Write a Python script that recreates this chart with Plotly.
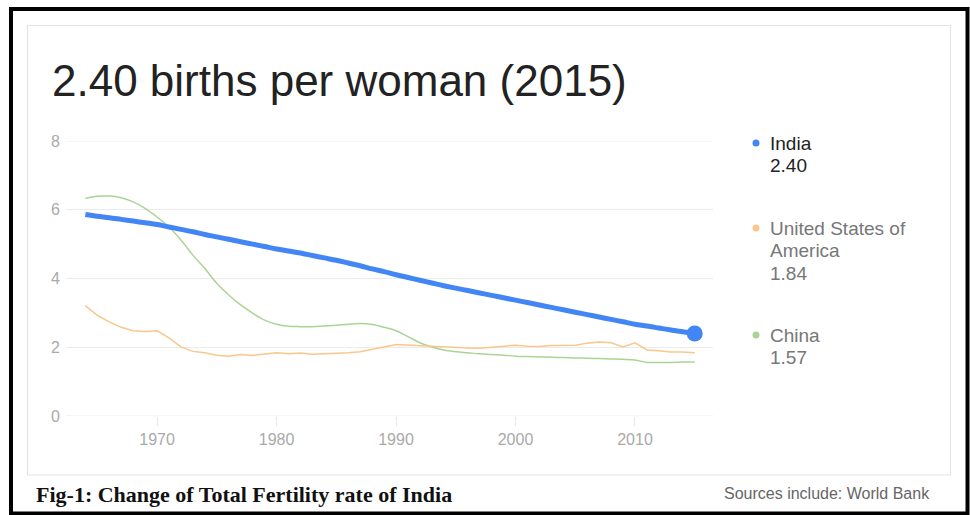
import plotly.graph_objects as go

years = list(range(1964, 2016))

india = [5.86, 5.81, 5.77, 5.72, 5.67, 5.62, 5.57, 5.50, 5.43, 5.36, 5.28, 5.21, 5.14, 5.07, 5.00, 4.93,
         4.86, 4.80, 4.74, 4.67, 4.60, 4.53, 4.45, 4.37, 4.28, 4.20, 4.11, 4.03, 3.95, 3.87, 3.79, 3.72,
         3.65, 3.58, 3.51, 3.44, 3.37, 3.30, 3.23, 3.16, 3.09, 3.02, 2.95, 2.88, 2.81, 2.74, 2.67, 2.62,
         2.56, 2.50, 2.45, 2.40]

usa = [3.21, 2.93, 2.74, 2.58, 2.48, 2.46, 2.48, 2.27, 2.01, 1.88, 1.84, 1.77, 1.74, 1.79, 1.76, 1.81,
       1.84, 1.81, 1.83, 1.80, 1.81, 1.84, 1.84, 1.87, 1.93, 2.01, 2.08, 2.06, 2.05, 2.02, 2.00, 1.98,
       1.98, 1.97, 2.00, 2.01, 2.06, 2.03, 2.02, 2.05, 2.05, 2.06, 2.12, 2.15, 2.13, 2.01, 2.13, 1.92,
       1.90, 1.86, 1.86, 1.84]

china = [6.33, 6.39, 6.40, 6.35, 6.23, 6.04, 5.79, 5.50, 5.12, 4.68, 4.29, 3.86, 3.52, 3.23, 2.99, 2.79,
         2.67, 2.61, 2.60, 2.60, 2.62, 2.64, 2.67, 2.69, 2.66, 2.58, 2.48, 2.31, 2.13, 2.01, 1.92, 1.87,
         1.84, 1.81, 1.79, 1.77, 1.74, 1.73, 1.72, 1.71, 1.70, 1.69, 1.68, 1.67, 1.66, 1.65, 1.63, 1.56,
         1.56, 1.56, 1.57, 1.57]

y_ticks = [0, 2, 4, 6, 8]
x_ticks = [1970, 1980, 1990, 2000, 2010]

title_text = "2.40 births per woman (2015)"
caption_text = "Fig-1: Change of Total Fertility rate of India"
source_text = "Sources include: World Bank"
legend_items = [(["India"], "2.40"), (["United States of", "America"], "1.84"), (["China"], "1.57")]

BLUE = "#4285f4"
ORANGE = "#f9c78c"
GREEN = "#acd396"

W, H = 970, 515
L, R, T, B = 66, 713, 141, 416  # plot area in pixels


def px(x):
    return (x - L) / (R - L)


def py(y):
    return (B - y) / (B - T)


fig = go.Figure()
fig.add_trace(go.Scatter(x=years, y=china, mode="lines", line=dict(color=GREEN, width=1.5, shape="spline"),
                         hoverinfo="skip", showlegend=False))
fig.add_trace(go.Scatter(x=years, y=usa, mode="lines", line=dict(color=ORANGE, width=1.5),
                         hoverinfo="skip", showlegend=False))
fig.add_trace(go.Scatter(x=years, y=india, mode="lines", line=dict(color=BLUE, width=5, shape="spline"),
                         hoverinfo="skip", showlegend=False))
fig.add_trace(go.Scatter(x=[years[-1]], y=[india[-1]], mode="markers",
                         marker=dict(color=BLUE, size=16), hoverinfo="skip", showlegend=False))

shapes = []
# gridlines at the edges of the value range (plotly hides them at the plot border)
for v in (y_ticks[0], y_ticks[-1]):
    shapes.append(dict(type="line", xref="paper", yref="y", x0=0, x1=1, y0=v, y1=v,
                       line=dict(color="#ebebeb", width=1), layer="below"))
# outer black frame
shapes.append(dict(type="rect", xref="paper", yref="paper", x0=px(11), x1=px(967.5), y0=py(9), y1=py(513.5),
                   line=dict(color="black", width=4), fillcolor="rgba(0,0,0,0)", layer="above"))
# inner light box
shapes.append(dict(type="rect", xref="paper", yref="paper", x0=px(27.5), x1=px(950.5), y0=py(25.5), y1=py(475),
                   line=dict(color="#e4e4e4", width=1.2), fillcolor="rgba(0,0,0,0)", layer="below"))

annotations = [
    dict(text=title_text, x=px(50), y=py(81), xref="paper", yref="paper", xanchor="left", yanchor="middle",
         showarrow=False, font=dict(family="Liberation Sans, Arial", size=44, color="#222222")),
    dict(text="<b>" + caption_text + "</b>", x=px(34), y=py(494), xref="paper", yref="paper",
         xanchor="left", yanchor="middle", showarrow=False,
         font=dict(family="Liberation Serif, Times New Roman", size=22, color="#111111")),
    dict(text=source_text, x=px(932), y=py(493), xref="paper", yref="paper", xanchor="right", yanchor="middle",
         showarrow=False, font=dict(family="Liberation Sans, Arial", size=16, color="#666666")),
]

legend_y = [143, 228, 335]
colors = [BLUE, ORANGE, GREEN]
text_colors = ["#222222", "#777777", "#777777"]
LINE_H = 22.7
for (names, val), ly, c, tc in zip(legend_items, legend_y, colors, text_colors):
    shapes.append(dict(type="circle", xref="paper", yref="paper", xsizemode="pixel", ysizemode="pixel",
                       xanchor=px(756), yanchor=py(ly), x0=-3.5, x1=3.5, y0=-3.5, y1=3.5,
                       fillcolor=c, line=dict(width=0)))
    for k, line_text in enumerate(names + [val]):
        annotations.append(dict(text=line_text, x=px(768), y=py(ly + k * LINE_H), xref="paper", yref="paper",
                                xanchor="left", yanchor="middle", align="left", showarrow=False,
                                font=dict(family="Liberation Sans, Arial", size=19, color=tc)))

fig.update_layout(
    width=W, height=H,
    margin=dict(l=L, r=W - R, t=T, b=H - B),
    paper_bgcolor="white", plot_bgcolor="white",
    shapes=shapes, annotations=annotations,
    xaxis=dict(range=[1962.38, 2016.53], tickvals=x_ticks, showgrid=False, zeroline=False, showline=False,
               ticks="outside", ticklen=9, tickcolor="#e6e6e6", tickwidth=1,
               tickfont=dict(family="Liberation Sans, Arial", size=16, color="#aaaaaa")),
    yaxis=dict(range=[0, 8], tickvals=y_ticks, showgrid=True, gridcolor="#ebebeb", gridwidth=1,
               zeroline=False, showline=False, ticks="", ticklabelstandoff=5,
               tickfont=dict(family="Liberation Sans, Arial", size=16, color="#aaaaaa")),
)

fig.write_html("out.html")
